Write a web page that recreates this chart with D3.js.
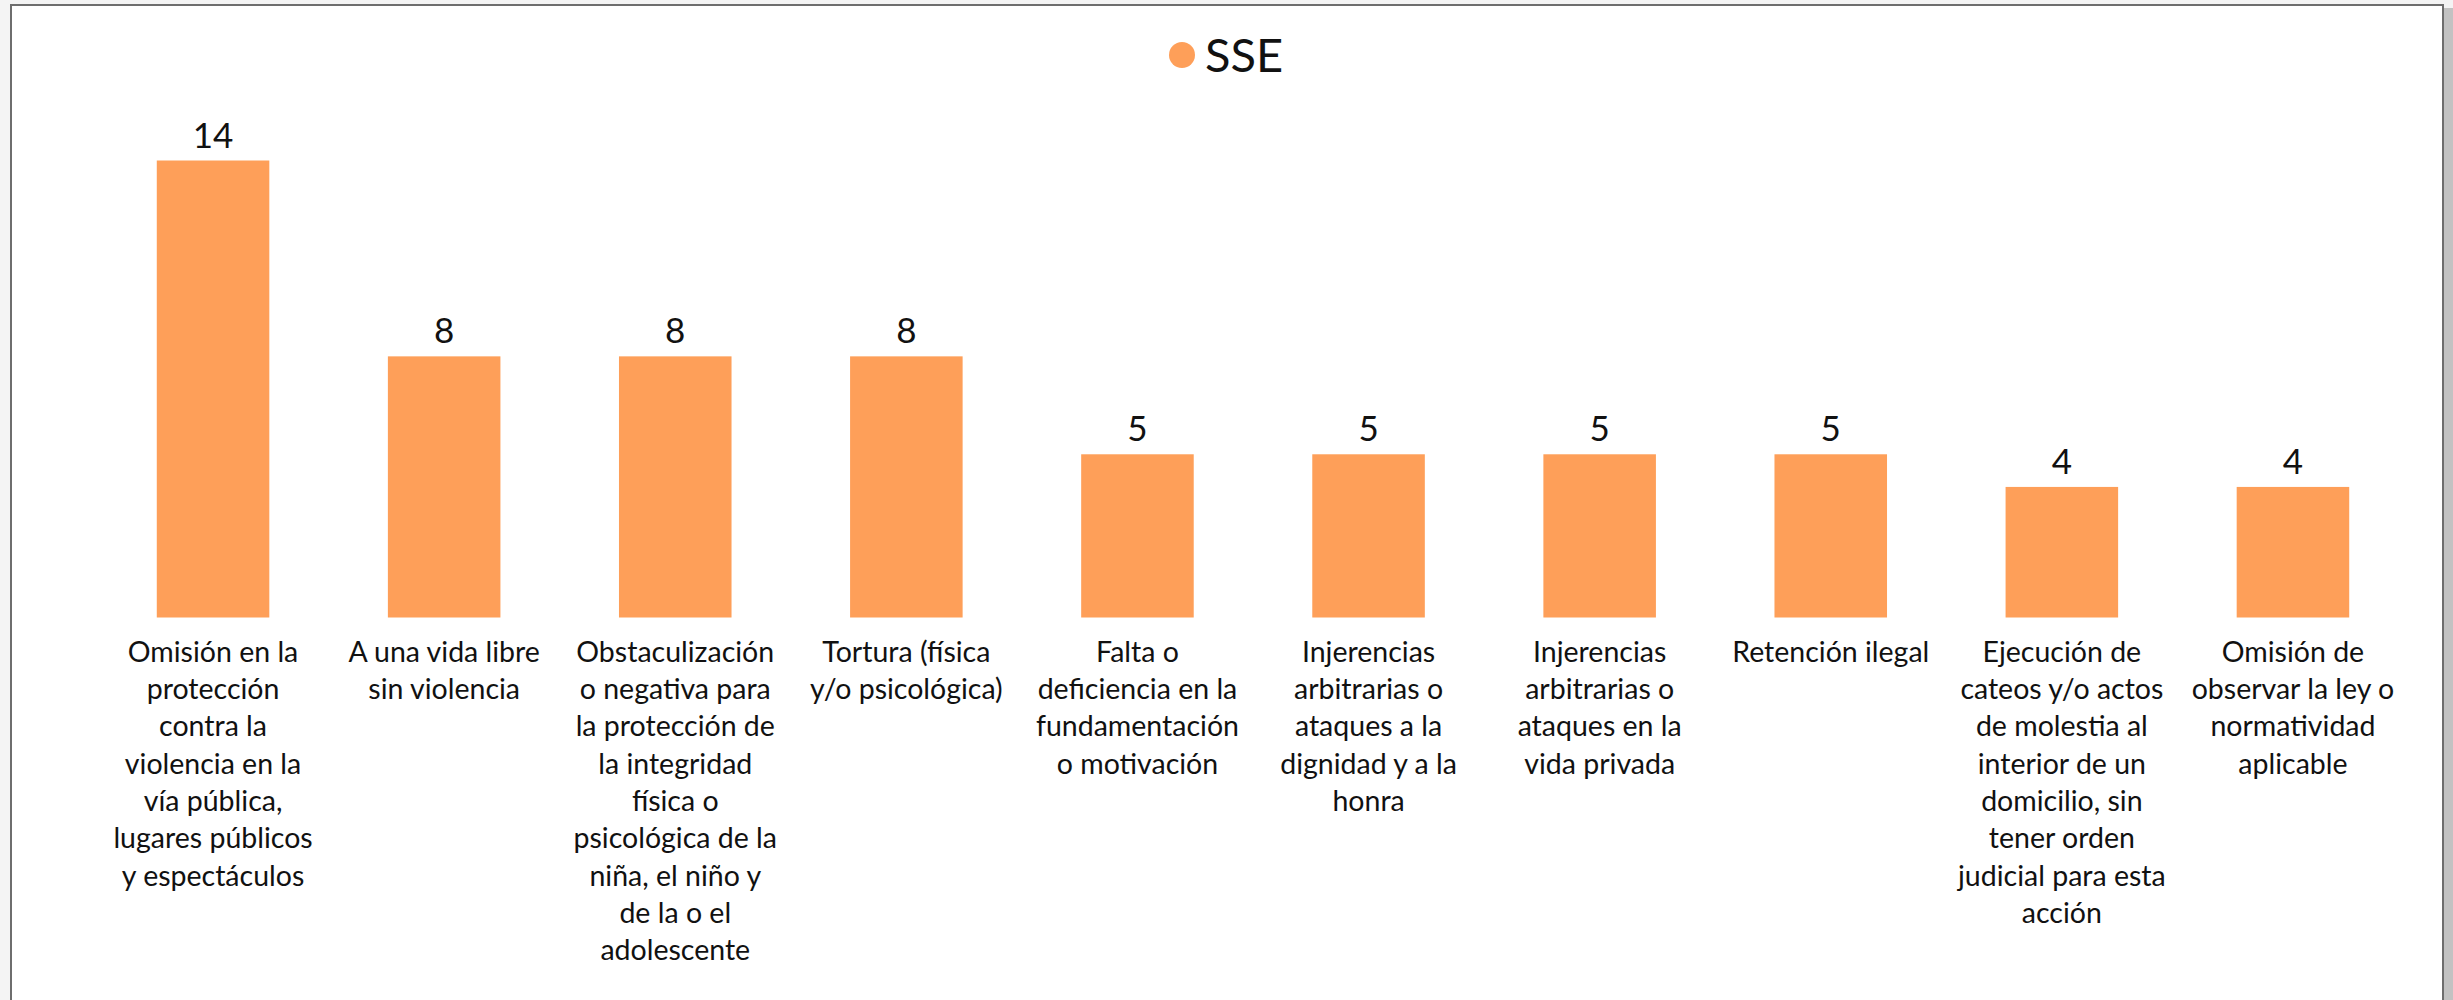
<!DOCTYPE html>
<html>
<head>
<meta charset="utf-8">
<script src="https://cdn.jsdelivr.net/npm/d3@7"></script>
<style>
  html, body { margin: 0; padding: 0; background: #fff; }
  svg { display: block; font-family: Lato, "Open Sans", sans-serif; }
</style>
</head>
<body>
<svg id="chart" width="2453" height="1000"></svg>
<script>
// 
// Bar chart: SSE counts by type of violation.
// 

var seriesName = 'SSE';

var categories = [
    'Omisión en la protección contra la violencia en la vía pública, lugares públicos y espectáculos',
    'A una vida libre sin violencia',
    'Obstaculización o negativa para la protección de la integridad física o psicológica de la niña, el niño y de la o el adolescente',
    'Tortura (física y/o psicológica)',
    'Falta o deficiencia en la fundamentación o motivación',
    'Injerencias arbitrarias o ataques a la dignidad y a la honra',
    'Injerencias arbitrarias o ataques en la vida privada',
    'Retención ilegal',
    'Ejecución de cateos y/o actos de molestia al interior de un domicilio, sin tener orden judicial para esta acción',
    'Omisión de observar la ley o normatividad aplicable'
];

var values = [14, 8, 8, 8, 5, 5, 5, 5, 4, 4];

// tick labels, wrapped as in the original
var tickLines = [
    ['Omisión en la', 'protección', 'contra la', 'violencia en la', 'vía pública,', 'lugares públicos', 'y espectáculos'],
    ['A una vida libre', 'sin violencia'],
    ['Obstaculización', 'o negativa para', 'la protección de', 'la integridad', 'física o', 'psicológica de la', 'niña, el niño y', 'de la o el', 'adolescente'],
    ['Tortura (física', 'y/o psicológica)'],
    ['Falta o', 'deficiencia en la', 'fundamentación', 'o motivación'],
    ['Injerencias', 'arbitrarias o', 'ataques a la', 'dignidad y a la', 'honra'],
    ['Injerencias', 'arbitrarias o', 'ataques en la', 'vida privada'],
    ['Retención ilegal'],
    ['Ejecución de', 'cateos y/o actos', 'de molestia al', 'interior de un', 'domicilio, sin', 'tener orden', 'judicial para esta', 'acción'],
    ['Omisión de', 'observar la ley o', 'normatividad', 'aplicable']
];

var barColor = '#fe9f59';

var svg = d3.select('#chart');

// page frame with a soft shadow on the right
svg.append('rect')
    .attr('x', 0).attr('y', 0).attr('width', 2453).attr('height', 1000)
    .attr('fill', '#f4f4f4');
svg.append('rect')
    .attr('x', 2444).attr('y', 8).attr('width', 9).attr('height', 992)
    .attr('fill', '#c2c2c2');
svg.append('rect')
    .attr('x', 11).attr('y', 5).attr('width', 2432).attr('height', 1010)
    .attr('fill', '#fff')
    .attr('stroke', '#6e6e6e')
    .attr('stroke-width', 2);

var x = d3.scaleBand()
    .domain(categories)
    .range([97.5, 2408.5])
    .paddingInner(0.513)
    .paddingOuter(0.2565);

var y = d3.scaleLinear()
    .domain([0, 14])
    .range([617.5, 160.5]);

var plot = svg.append('g');

plot.selectAll('rect.bar')
    .data(values)
    .enter()
    .append('rect')
    .attr('class', 'bar')
    .attr('x', function(d, i) { return x(categories[i]) })
    .attr('y', function(d) { return y(d) })
    .attr('width', x.bandwidth())
    .attr('height', function(d) { return y(0) - y(d) })
    .attr('fill', barColor);

plot.selectAll('text.value')
    .data(values)
    .enter()
    .append('text')
    .attr('class', 'value')
    .attr('x', function(d, i) { return x(categories[i]) + x.bandwidth() / 2 })
    .attr('y', function(d) { return y(d) - 13 })
    .attr('text-anchor', 'middle')
    .attr('font-size', 35)
    .attr('fill', '#111')
    .text(function(d) { return d });

// category axis, labels rebuilt as wrapped lines
var axis = svg.append('g')
    .attr('transform', 'translate(0,' + y(0) + ')')
    .call(d3.axisBottom(x).tickSize(0).tickPadding(0));

axis.select('.domain').remove();

axis.selectAll('.tick text')
    .attr('font-family', 'Lato, "Open Sans", sans-serif')
    .attr('font-size', 28.5)
    .attr('fill', '#111')
    .attr('dy', null)
    .attr('y', 0)
    .each(function(d, i) {
        var t = d3.select(this).text(null);
        tickLines[i].forEach(function(line, j) {
            t.append('tspan')
                .attr('x', 0)
                .attr('y', 44.2 + j * 37.3)
                .text(line);
        });
    });

// legend
var legend = svg.append('g');
legend.append('circle')
    .attr('cx', 1182).attr('cy', 55).attr('r', 13)
    .attr('fill', barColor);
legend.append('text')
    .attr('x', 1205).attr('y', 72)
    .attr('font-size', 47)
    .attr('fill', '#111')
    .text(seriesName);
</script>
</body>
</html>
